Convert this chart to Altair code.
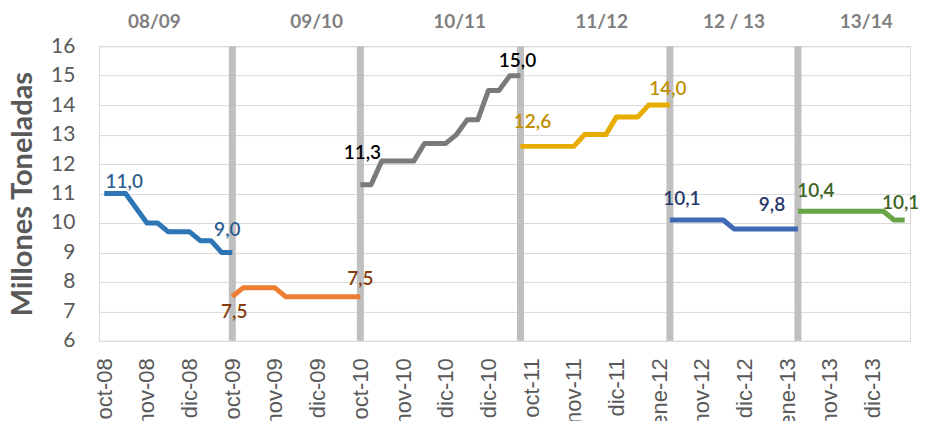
import altair as alt
import pandas as pd

# ---- data ----
seasons = ["08/09", "09/10", "10/11", "11/12", "12 / 13", "13/14"]
x_0809 = [0, 2, 4, 5, 6, 8, 9, 10, 11, 12]
y_0809 = [11.0, 11.0, 10.0, 10.0, 9.7, 9.7, 9.4, 9.4, 9.0, 9.0]
x_0910 = [12, 13, 16, 17, 24]
y_0910 = [7.5, 7.8, 7.8, 7.5, 7.5]
x_1011 = [24, 25, 26, 29, 30, 32, 33, 34, 35, 36, 37, 38, 39]
y_1011 = [11.3, 11.3, 12.1, 12.1, 12.7, 12.7, 13.0, 13.5, 13.5, 14.5, 14.5, 15.0, 15.0]
x_1112 = [39, 44, 45, 47, 48, 50, 51, 53]
y_1112 = [12.6, 12.6, 13.0, 13.0, 13.6, 13.6, 14.0, 14.0]
x_1213 = [53, 58, 59, 65]
y_1213 = [10.1, 10.1, 9.8, 9.8]
x_1314 = [65, 73, 74, 75]
y_1314 = [10.4, 10.4, 10.1, 10.1]

season_x = [x_0809, x_0910, x_1011, x_1112, x_1213, x_1314]
season_y = [y_0809, y_0910, y_1011, y_1112, y_1213, y_1314]

n_cats = 76
boundaries = [12, 24, 39, 53, 65]
header_x = [4.7, 19.9, 33.3, 46.6, 59.0, 71.4]
tick_pos = list(range(0, 76, 4))
tick_labels = ["oct-08", "nov-08", "dic-08", "oct-09", "nov-09", "dic-09",
               "oct-10", "nov-10", "dic-10", "dic-10", "oct-11", "nov-11",
               "dic-11", "ene-12", "nov-12", "dic-12", "ene-13", "nov-13", "dic-13"]
y_ticks = [6, 7, 8, 9, 10, 11, 12, 13, 14, 15, 16]

# ---- styles ----
line_colors = ["#2e75b6", "#ed7d31", "#7a7a7a", "#e6ac00", "#4068b4", "#68a345"]
label_colors = ["#2e5f8f", "#843c0c", "#000000", "#c09000", "#26386a", "#3b6424"]
# (dx, dy) for first / last label of each season
label_offsets = [((20, -12), (-5, -22)),
                 ((2, 15), (0, -18)),
                 ((2, -32), (-3, -15)),
                 ((12, -24), (-2, -16)),
                 ((12, -21), (-26, -24)),
                 ((18, -20), (-4, -17))]

rows = []
for s, xs_, ys_ in zip(seasons, season_x, season_y):
    for i, v in zip(xs_, ys_):
        rows.append({"season": s, "i": i, "v": v})
df = pd.DataFrame(rows)

xscale = alt.Scale(domain=[-0.5, n_cats - 0.5], nice=False, zero=False)
yscale = alt.Scale(domain=[6, 16], nice=False, zero=False)

label_expr = "[" + ",".join(f"'{t}'" for t in tick_labels) + "][round(datum.value/4)]"

xaxis = alt.Axis(values=tick_pos, labelExpr=label_expr, labelAngle=-90,
                 labelFont="Liberation Sans", labelFontSize=22, labelColor="#595959",
                 grid=False, ticks=False, domain=False, labelPadding=17,
                 title=None, labelOverlap=False, labelFlush=False)
yaxis = alt.Axis(values=y_ticks, grid=True, gridColor="#d9d9d9",
                 ticks=False, domain=False, labelFont="Lato", labelFontSize=21,
                 labelColor="#595959", labelPadding=24, labelOverlap=False,
                 labelFlush=False,
                 title="Millones Toneladas", titleFont="Lato", titleFontSize=29,
                 titleFontWeight="bold", titleColor="#595959",
                 titleX=-76, titleY=147.5, titleAngle=-90, titleAlign="center",
                 titleBaseline="middle")

X = alt.X("i:Q", scale=xscale, axis=xaxis)
Y = alt.Y("v:Q", scale=yscale, axis=yaxis)

rules = alt.Chart(pd.DataFrame({"i": boundaries})).mark_rule(
    color="#bfbfbf", strokeWidth=7).encode(x=X)

lines = alt.Chart(df).mark_line(strokeWidth=5, strokeJoin="round").encode(
    x=X, y=Y,
    color=alt.Color("season:N", scale=alt.Scale(domain=seasons, range=line_colors),
                    legend=None),
)

layers = [rules, lines]

for k, s in enumerate(seasons):
    pts = [(season_x[k][0], season_y[k][0]), (season_x[k][-1], season_y[k][-1])]
    for (i, v), (dx, dy) in zip(pts, label_offsets[k]):
        t = f"{v:.1f}".replace(".", ",")
        layers.append(
            alt.Chart(pd.DataFrame([{"i": i, "v": v, "t": t}])).mark_text(
                font="Lato", fontSize=19, fontWeight=600, color=label_colors[k],
                dx=dx, dy=dy, align="center", baseline="middle").encode(
                x=X, y=Y, text="t:N"))

headers = alt.Chart(pd.DataFrame({"s": seasons, "hx": header_x})).mark_text(
    font="Lato", fontSize=19, fontWeight="bold", color="#7f7f7f",
    align="center", baseline="middle").encode(
    x=alt.X("hx:Q", scale=xscale, axis=xaxis), y=alt.value(-24), text="s:N")
layers.append(headers)

chart = alt.layer(*layers).properties(
    width=812, height=295,
    autosize=alt.AutoSizeParams(type="none"),
    padding={"left": 91, "top": 38, "right": 8, "bottom": 80},
).configure_view(stroke="#d9d9d9", strokeWidth=1)

chart.save("out.html", embed_options={"renderer": "svg", "actions": False})
